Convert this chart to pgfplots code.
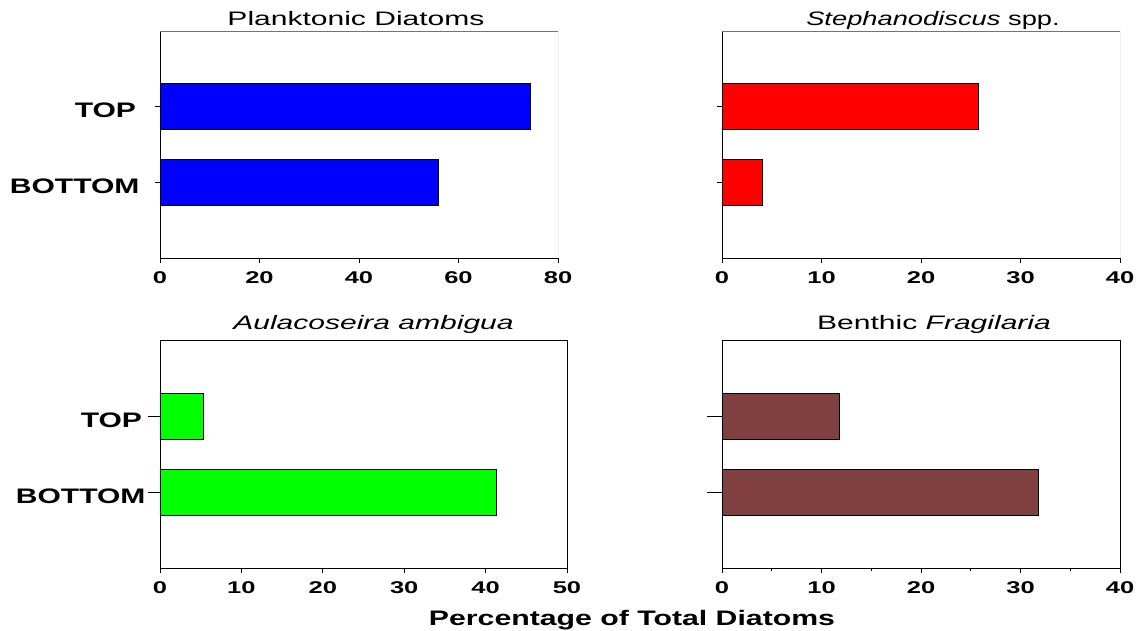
\documentclass[border=0pt]{standalone}
\usepackage{fontspec}
\setmainfont{Liberation Sans}[FakeStretch=1.45]
\newfontfamily\ttlfont{Liberation Sans}[FakeStretch=1.54]
\newfontfamily\ttlfontb{Liberation Sans}[FakeStretch=1.40]
\newfontfamily\ylabfont{Liberation Sans}[FakeStretch=1.43]
\newfontfamily\xnumfont{Liberation Sans}[FakeStretch=1.5]
\newfontfamily\xlabfont{Liberation Sans}[FakeStretch=1.44]
\usepackage{pgfplots}
\pgfplotsset{compat=1.18}
\definecolor{brn}{RGB}{128,64,64}
\pgfplotsset{
  panel/.style={
    scale only axis, xbar, bar width=46pt,
    ymin=0, ymax=3, ytick={1,2}, xmin=0,
    axis line style={black, line width=0.8pt},
    tick style={black, line width=0.8pt},
    tick align=outside,
    xtick pos=bottom, ytick pos=left,
    major tick length=5pt,
    /pgf/number format/assume math mode=true,
    xticklabel style={font=\xnumfont\bfseries\fontsize{17}{17}\selectfont, yshift=-5pt},
    yticklabel style={font=\ylabfont\bfseries\fontsize{21}{21}\selectfont, xshift=-12pt, yshift=-4pt},
    title style={font=\ttlfont\fontsize{19.5}{20}\selectfont, at={(0.5,1)}, anchor=base},
    anchor=south west,
  },
  grayframe/.style={axis x line*=bottom, axis y line*=left},
}
\begin{document}
\begin{tikzpicture}[x=1pt,y=1pt]
\path[use as bounding box] (0,0) rectangle (1140,630);
% top-left
\begin{axis}[panel, grayframe, at={(160pt,372pt)}, width=398pt, height=227pt,
  xmax=80, xtick={0,20,40,60,80},
  yticklabels={BOTTOM,TOP\hphantom{\,}},
  title={Planktonic Diatoms}, title style={yshift=0pt, xshift=-3pt}]
\addplot[fill=blue, draw=black, line width=0.5pt] coordinates {(56,1) (74.4,2)};
\draw[gray!90!black, line width=0.8pt] (rel axis cs:0,1) -- (rel axis cs:1,1) -- (rel axis cs:1,0);
\end{axis}
% top-right
\begin{axis}[panel, grayframe, at={(722pt,372pt)}, width=398pt, height=227pt,
  xmax=40, xtick={0,10,20,30,40}, yticklabels={},
  title={\itshape Stephanodiscus\upshape{} spp.},
  title style={font=\ttlfontb\fontsize{19.5}{20}\selectfont, yshift=0pt, xshift=12pt}]
\addplot[fill=red, draw=black, line width=0.5pt] coordinates {(4.0,1) (25.8,2)};
\draw[gray!90!black, line width=0.8pt] (rel axis cs:0,1) -- (rel axis cs:1,1) -- (rel axis cs:1,0);
\end{axis}
% bottom-left
\begin{axis}[panel, at={(160pt,62pt)}, width=407pt, height=228pt,
  xmax=50, xtick={0,10,20,30,40,50},
  yticklabels={BOTTOM,TOP\hphantom{\,}},
  ytick style={/pgfplots/major tick length=12pt},
  yticklabel style={xshift=6pt},
  title={\itshape Aulacoseira ambigua}, title style={yshift=5pt, xshift=10pt}]
\addplot[fill=green, draw=black, line width=0.5pt] coordinates {(41.3,1) (5.3,2)};
\end{axis}
% bottom-right
\begin{axis}[panel, at={(722pt,62pt)}, width=398pt, height=228pt,
  xmax=40, xtick={0,10,20,30,40}, yticklabels={},
  ytick style={/pgfplots/major tick length=15pt},
  minor xtick={5,15,25,35}, minor tick length=3pt,
  title={Benthic \itshape Fragilaria}, title style={yshift=5pt, xshift=13pt}]
\addplot[fill=brn, draw=black, line width=0.5pt] coordinates {(31.8,1) (11.8,2)};
\end{axis}
\node[font=\xlabfont\bfseries\fontsize{21}{21}\selectfont, anchor=base] at (632,5) {Percentage of Total Diatoms};
\end{tikzpicture}
\end{document}
